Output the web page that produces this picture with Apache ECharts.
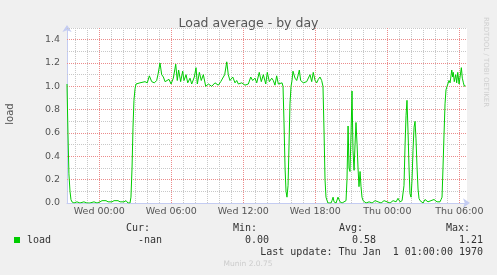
<!DOCTYPE html>
<html><head><meta charset="utf-8">
<script src="https://cdn.jsdelivr.net/npm/echarts@6/dist/echarts.min.js"></script>
<style>html,body{margin:0;padding:0;background:#f0f0f0;}#c{width:497px;height:275px;}</style>
</head><body><div id="c"></div>
<script>
// time in hours relative to Wed 00:00
const hours = [
-2.69,-2.61,-2.53,-2.44,-2.36,-2.28,-2.11,-1.86,-1.61,-1.28,-1.03,-0.78,-0.44,-0.19,
0.06,0.23,0.39,0.56,0.73,0.89,1.06,1.23,1.39,1.56,1.73,1.89,2.06,2.23,2.39,2.56,
2.64,2.73,2.81,2.89,2.98,3.06,3.39,3.81,4.00,4.17,4.37,4.59,4.78,4.89,5.06,5.20,5.34,5.48,5.62,5.81,5.98,
6.17,6.37,6.50,6.61,6.78,6.95,7.06,7.23,7.37,7.56,7.70,7.92,8.06,8.17,8.34,8.50,8.67,8.87,9.09,9.37,9.64,9.92,
10.12,10.28,10.45,10.62,10.75,10.89,11.12,11.31,11.45,11.59,11.87,12.14,12.42,12.62,12.78,12.97,13.12,13.33,13.50,13.67,13.87,
14.00,14.17,14.37,14.50,14.64,14.78,14.92,15.06,15.23,15.31,15.39,15.48,15.56,15.64,15.73,15.81,15.89,15.98,
16.06,16.14,16.31,16.45,16.58,16.67,16.78,16.89,17.00,17.14,17.28,17.42,17.56,17.70,17.83,17.98,18.12,18.25,18.39,18.53,
18.64,18.73,18.81,18.89,18.98,19.06,19.31,19.39,19.48,19.56,19.73,19.89,20.06,20.23,20.39,20.56,
20.64,20.73,20.81,20.89,20.98,21.06,21.14,21.23,21.31,21.39,21.48,21.56,21.64,21.73,21.81,21.89,21.98,22.06,
22.23,22.48,22.73,22.98,23.23,23.48,23.73,23.98,24.23,24.48,24.73,24.89,25.06,25.23,
25.31,25.39,25.48,25.56,25.64,25.73,25.81,25.89,25.98,26.06,26.14,26.23,26.31,26.39,26.48,26.56,26.64,26.73,
26.98,27.14,27.39,27.64,27.89,28.14,28.39,28.48,28.56,28.64,28.73,28.81,28.89,28.98,
29.14,29.23,29.37,29.45,29.50,29.58,29.70,29.78,29.87,29.98,30.06,30.17,30.25,30.34,30.42,30.48
];
const loads = [
1.02,0.60,0.25,0.10,0.03,0.01,0.00,0.01,0.00,0.01,0.00,0.00,0.01,0.00,
0.01,0.02,0.01,0.02,0.01,0.02,0.01,0.02,0.01,0.02,0.01,0.02,0.01,0.02,0.00,0.00,
0.05,0.30,0.65,0.88,0.98,1.02,1.03,1.04,1.03,1.09,1.04,1.03,1.05,1.10,1.20,1.10,1.08,1.04,1.03,1.06,1.02,
1.07,1.19,1.05,1.14,1.04,1.13,1.05,1.10,1.03,1.07,1.02,1.08,1.16,1.02,1.12,1.05,1.10,1.00,1.02,1.00,1.03,1.01,
1.04,1.05,1.10,1.21,1.10,1.05,1.08,1.03,1.05,1.02,1.03,1.01,1.02,1.08,1.05,1.07,1.03,1.12,1.04,1.10,1.02,
1.12,1.04,1.07,1.05,1.01,1.09,1.02,1.01,1.03,1.00,0.70,0.30,0.10,0.05,0.15,0.50,0.85,1.00,
1.05,1.13,1.07,1.05,1.10,1.14,1.05,1.06,1.03,1.02,1.04,1.05,1.10,1.04,1.12,1.05,1.03,1.06,1.08,1.05,
1.00,0.60,0.20,0.05,0.02,0.00,0.00,0.02,0.05,0.01,0.00,0.05,0.01,0.00,0.01,0.02,
0.20,0.66,0.30,0.27,0.60,0.96,0.45,0.28,0.50,0.69,0.50,0.30,0.14,0.27,0.14,0.05,0.02,0.01,
0.00,0.01,0.00,0.02,0.01,0.00,0.02,0.01,0.00,0.02,0.01,0.04,0.01,0.02,
0.02,0.15,0.50,0.75,0.88,0.60,0.30,0.08,0.05,0.20,0.45,0.65,0.70,0.55,0.30,0.12,0.04,0.02,
0.00,0.03,0.01,0.02,0.03,0.01,0.01,0.03,0.05,0.30,0.60,0.85,0.97,1.00,
1.05,1.03,1.14,1.08,1.12,1.04,1.10,1.03,1.12,1.02,1.08,1.16,1.07,1.03,1.00,1.01
];
// grid positions
const minorHours = [-2,-1,1,2,3,4,5,7,8,9,10,11,13,14,15,16,17,19,20,21,22,23,25,26,27,28,29];
const majorHours = [0,6,12,18,24,30];
const majorHourLabels = ['Wed 00:00','Wed 06:00','Wed 12:00','Wed 18:00','Thu 00:00','Thu 06:00'];
const minorLoads = [0.1,0.3,0.5,0.7,0.9,1.1,1.3,1.5];
const majorLoads = [0.2,0.4,0.6,0.8,1.0,1.2,1.4];
const legendHeaders = ['Cur:','Min:','Avg:','Max:'];
const legendValues = ['-nan','0.00','0.58','1.21'];
const seriesName = 'load';
const lastUpdate = 'Last update: Thu Jan  1 01:00:00 1970';

const XMIN = -2.69, XMAX = 30.64;
const AXIS_COL = '#c4ccf2';
const GRID_GREY = '#c8c8c8';
const GRID_RED = '#ec8c8c';
const TXT = '#555';
const MONO = '"DejaVu Sans Mono", monospace';
const SANS = '"DejaVu Sans", sans-serif';

const chart = echarts.init(document.getElementById('c'), null, {renderer: 'canvas'});

const graphics = [
  {type: 'text', x: 10.5, y: 114, rotation: Math.PI / 2,
   style: {text: 'load', font: '10px ' + SANS, fill: TXT, align: 'center', verticalAlign: 'middle'}},
  {type: 'text', x: 486, y: 62, rotation: -Math.PI / 2,
   style: {text: 'RRDTOOL / TOBI OETIKER', font: '7px ' + SANS, fill: '#cfcfcf', align: 'center', verticalAlign: 'middle'}},
  {type: 'rect', shape: {x: 14, y: 237, width: 6, height: 6}, style: {fill: '#00cc00'}},
  {type: 'text', x: 27, y: 240, style: {text: seriesName, font: '10px ' + MONO, fill: '#333', align: 'left', verticalAlign: 'middle'}},
  {type: 'text', x: 483, y: 252, style: {text: lastUpdate, font: '10px ' + MONO, fill: '#333', align: 'right', verticalAlign: 'middle'}},
  {type: 'text', x: 248, y: 264, style: {text: 'Munin 2.0.75', font: '7.5px ' + SANS, fill: '#cccccc', align: 'center', verticalAlign: 'middle'}}
];
const headerRight = [150, 257, 363, 470];
const valueRight = [162, 269, 376, 483];
legendHeaders.forEach((t, i) => {
  graphics.push({type: 'text', x: headerRight[i], y: 228, style: {text: t, font: '10px ' + MONO, fill: '#333', align: 'right', verticalAlign: 'middle'}});
});
legendValues.forEach((t, i) => {
  graphics.push({type: 'text', x: valueRight[i], y: 240, style: {text: t, font: '10px ' + MONO, fill: '#333', align: 'right', verticalAlign: 'middle'}});
});

const gridLines = [];
minorHours.forEach(h => gridLines.push({xAxis: h, lineStyle: {color: GRID_GREY, type: [1, 1], width: 1}, label: {show: false}}));
minorLoads.forEach(v => gridLines.push({yAxis: v, lineStyle: {color: GRID_GREY, type: [1, 1], width: 1}, label: {show: false}}));
majorLoads.forEach(v => gridLines.push({yAxis: v, lineStyle: {color: GRID_RED, type: [1, 1], width: 1}, label: {show: false}}));
majorHours.forEach((h, i) => gridLines.push({xAxis: h, lineStyle: {color: GRID_RED, type: [1, 1], width: 1},
  label: {show: true, position: 'start', distance: 4, formatter: majorHourLabels[i],
          fontFamily: SANS, fontSize: 9.5, color: TXT}}));

const option = {
  animation: false,
  backgroundColor: '#f0f0f0',
  title: {text: 'Load average - by day', left: 'center', top: 12,
    textStyle: {fontFamily: SANS, fontSize: 12.5, fontWeight: 'normal', color: TXT}},
  grid: {left: 67, right: 30, top: 28, bottom: 72, show: true, backgroundColor: '#ffffff', borderWidth: 0},
  xAxis: {type: 'value', min: XMIN, max: XMAX, position: 'bottom',
     axisLine: {show: true, onZero: false, lineStyle: {color: AXIS_COL, width: 1}, symbol: ['none', 'arrow'], symbolSize: [7, 7], symbolOffset: [0, 3]},
     axisTick: {show: false}, axisLabel: {show: false}, splitLine: {show: false}},
  yAxis: {type: 'value', min: 0, max: 1.5, interval: 0.2,
     axisLine: {show: true, onZero: false, lineStyle: {color: AXIS_COL, width: 1}, symbol: ['none', 'arrow'], symbolSize: [7, 7], symbolOffset: [0, 3]},
     axisTick: {show: false},
     axisLabel: {show: true, margin: 7, fontFamily: SANS, fontSize: 9.5, color: TXT, showMaxLabel: false,
       formatter: v => (v < 1.45) ? v.toFixed(1) : ''},
     splitLine: {show: false}},
  series: [{
    name: seriesName, type: 'line',
    showSymbol: false, symbol: 'none', z: 3,
    lineStyle: {color: '#00cc00', width: 1},
    data: hours.map((h, i) => [h, loads[i]]),
    markLine: {silent: true, symbol: 'none', z: 1, animation: false, precision: 4,
      emphasis: {disabled: true}, data: gridLines}
  }],
  graphic: graphics
};
chart.setOption(option);
</script></body></html>
